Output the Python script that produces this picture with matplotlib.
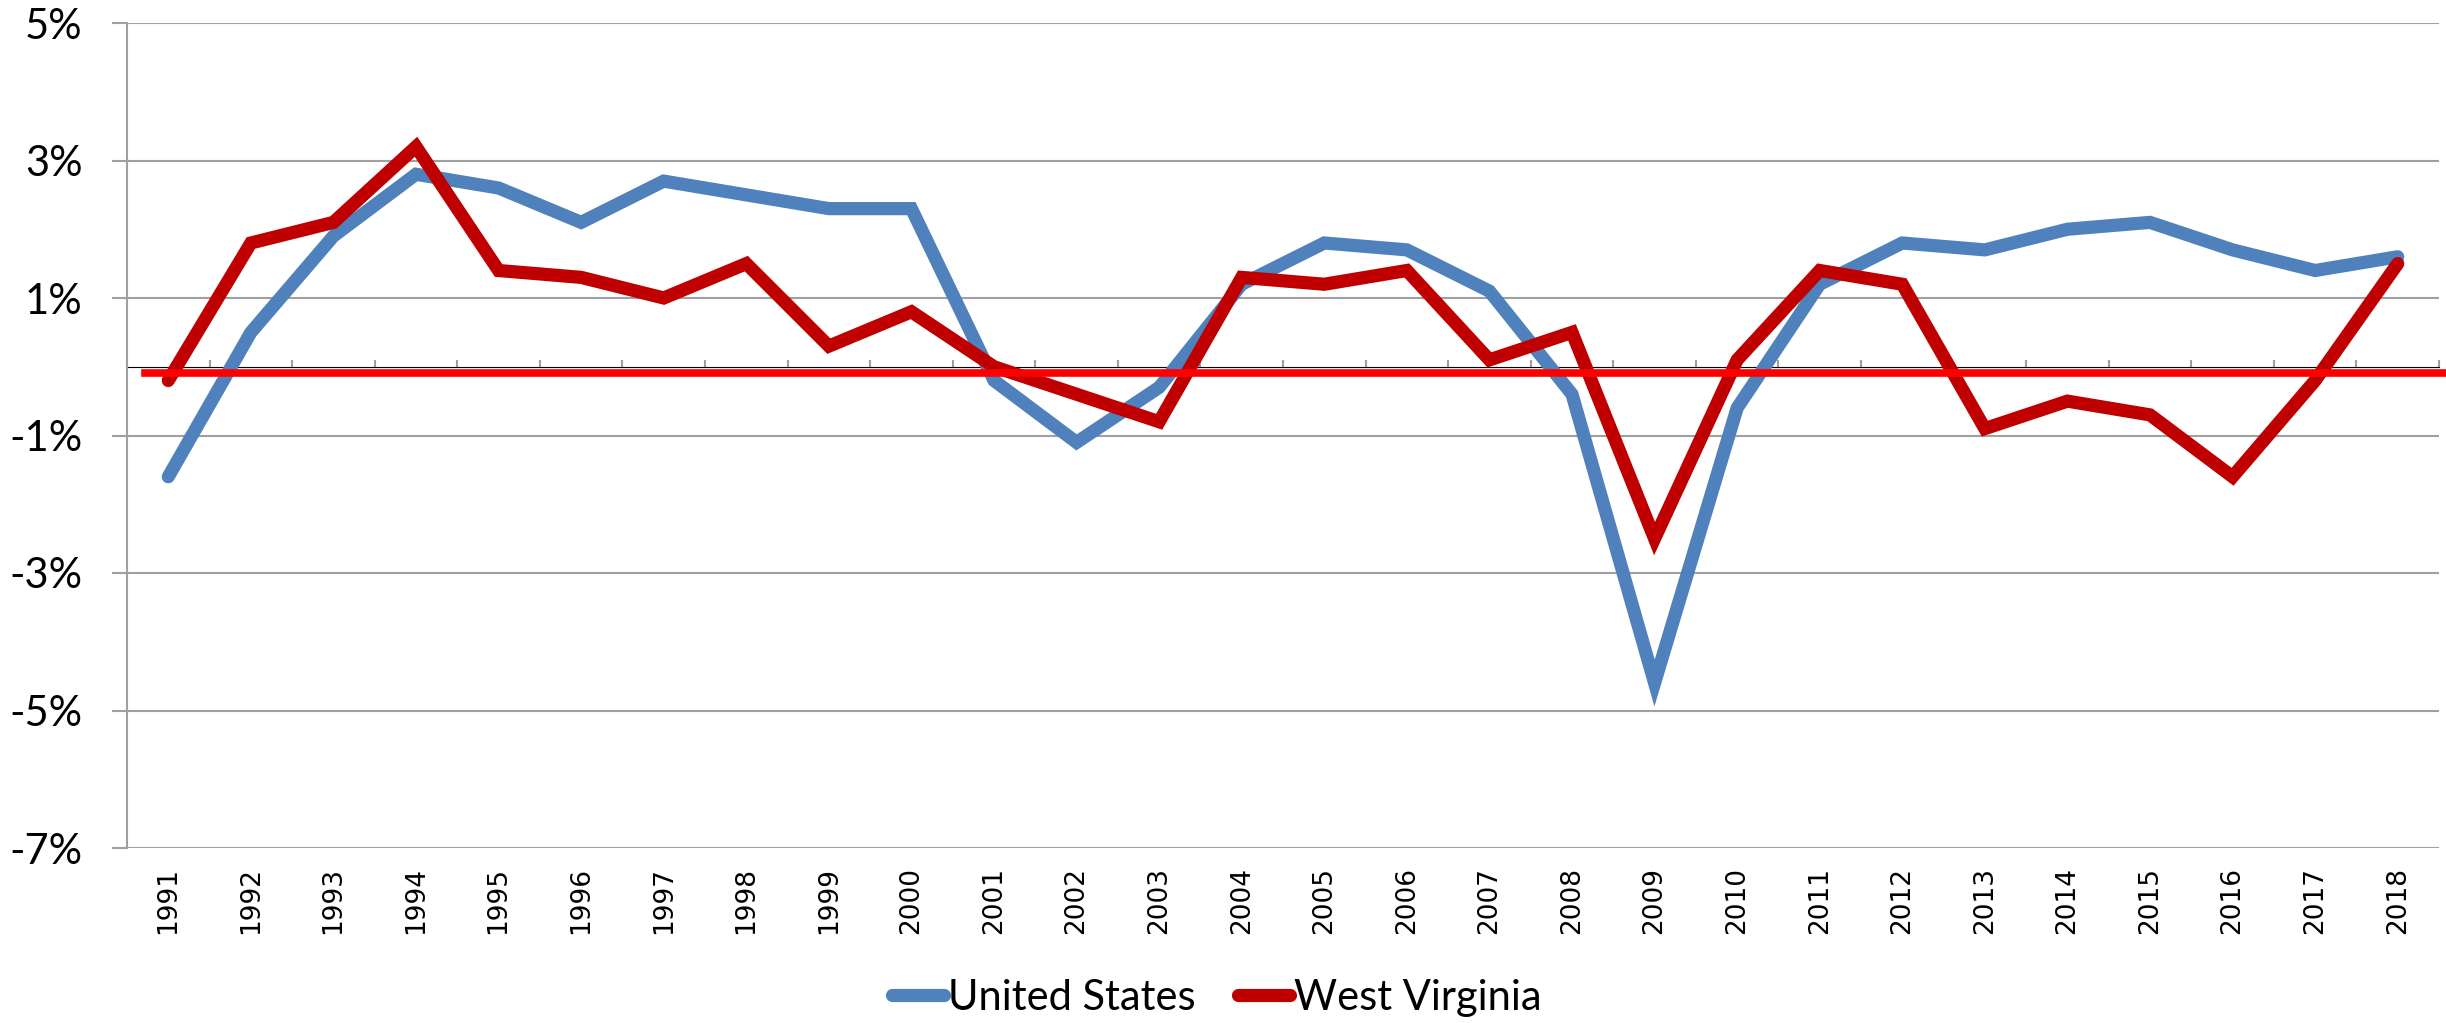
import matplotlib
matplotlib.use("Agg")
import matplotlib.pyplot as plt
import numpy as np

# annual growth, percent
years = [str(y) for y in range(1991, 2019)]
united_states = [-1.6, 0.5, 1.9, 2.8, 2.6, 2.1, 2.7, 2.5, 2.3, 2.3,
                 -0.2, -1.1, -0.3, 1.2, 1.8, 1.7, 1.1, -0.4, -4.6, -0.6,
                 1.2, 1.8, 1.7, 2.0, 2.1, 1.7, 1.4, 1.6]
west_virginia = [-0.2, 1.8, 2.1, 3.2, 1.4, 1.3, 1.0, 1.5, 0.3, 0.8,
                 0.0, -0.4, -0.8, 1.3, 1.2, 1.4, 0.1, 0.5, -2.5, 0.1,
                 1.4, 1.2, -0.9, -0.5, -0.7, -1.6, -0.2, 1.5]
y_ticks = [-7, -5, -3, -1, 1, 3, 5]
ref_level = -0.09  # the hand-drawn red line sits just under zero

grid_col = "#a0a0a0"

fig = plt.figure(figsize=(24.46, 10.23), dpi=100)
ax = fig.add_axes([127 / 2446, 1 - 848 / 1023, (2439 - 127) / 2446, (848 - 23) / 1023])

x = np.arange(len(years))
ax.plot(x, united_states, color="#4f81bd", lw=9.5, solid_capstyle="round",
        solid_joinstyle="miter", label="United States", zorder=3)
ax.plot(x, west_virginia, color="#c00000", lw=9.5, solid_capstyle="round",
        solid_joinstyle="miter", label="West Virginia", zorder=4)
ax.axhline(ref_level, xmin=0.0078, xmax=1.003, color="#ff0000", lw=5.5,
           zorder=5, clip_on=False)

ax.set_xlim(-0.5, len(years) - 0.5)
ax.set_ylim(-7, 5)
ax.set_yticks(y_ticks)
ax.set_yticklabels([f"{t}%" for t in y_ticks], fontfamily="Lato", fontsize=30)
ax.tick_params(axis="y", length=11, width=1.5, color=grid_col, pad=21)
ax.yaxis.grid(True, color=grid_col, lw=1.5)
ax.set_axisbelow(True)

ax.set_xticks(x)
ax.set_xticklabels(years, rotation=90, fontfamily="DejaVu Sans", fontsize=19)
ax.tick_params(axis="x", length=0, pad=14)

for s in ["top", "right", "bottom"]:
    ax.spines[s].set_visible(False)
ax.spines["left"].set_color(grid_col)
ax.spines["left"].set_linewidth(1.5)

# category axis crossing at zero, tick marks between categories
sec = ax.secondary_xaxis(7 / 12)
sec.set_xticks(np.arange(len(years) + 1) - 0.5)
sec.set_xticklabels([])
sec.tick_params(axis="x", length=5, width=1.5, color=grid_col, direction="out")
sec.spines["bottom"].set_color(grid_col)
sec.spines["bottom"].set_linewidth(1.5)

leg = fig.legend(loc="center", bbox_to_anchor=(0.4975, 0.0245), ncol=2, frameon=False,
                 prop={"family": "Lato", "size": 30}, handlelength=1.25,
                 handletextpad=0.1, columnspacing=1.0)
for h in leg.get_lines():
    h.set_solid_capstyle("round")

fig.savefig("out.png", dpi=100)
